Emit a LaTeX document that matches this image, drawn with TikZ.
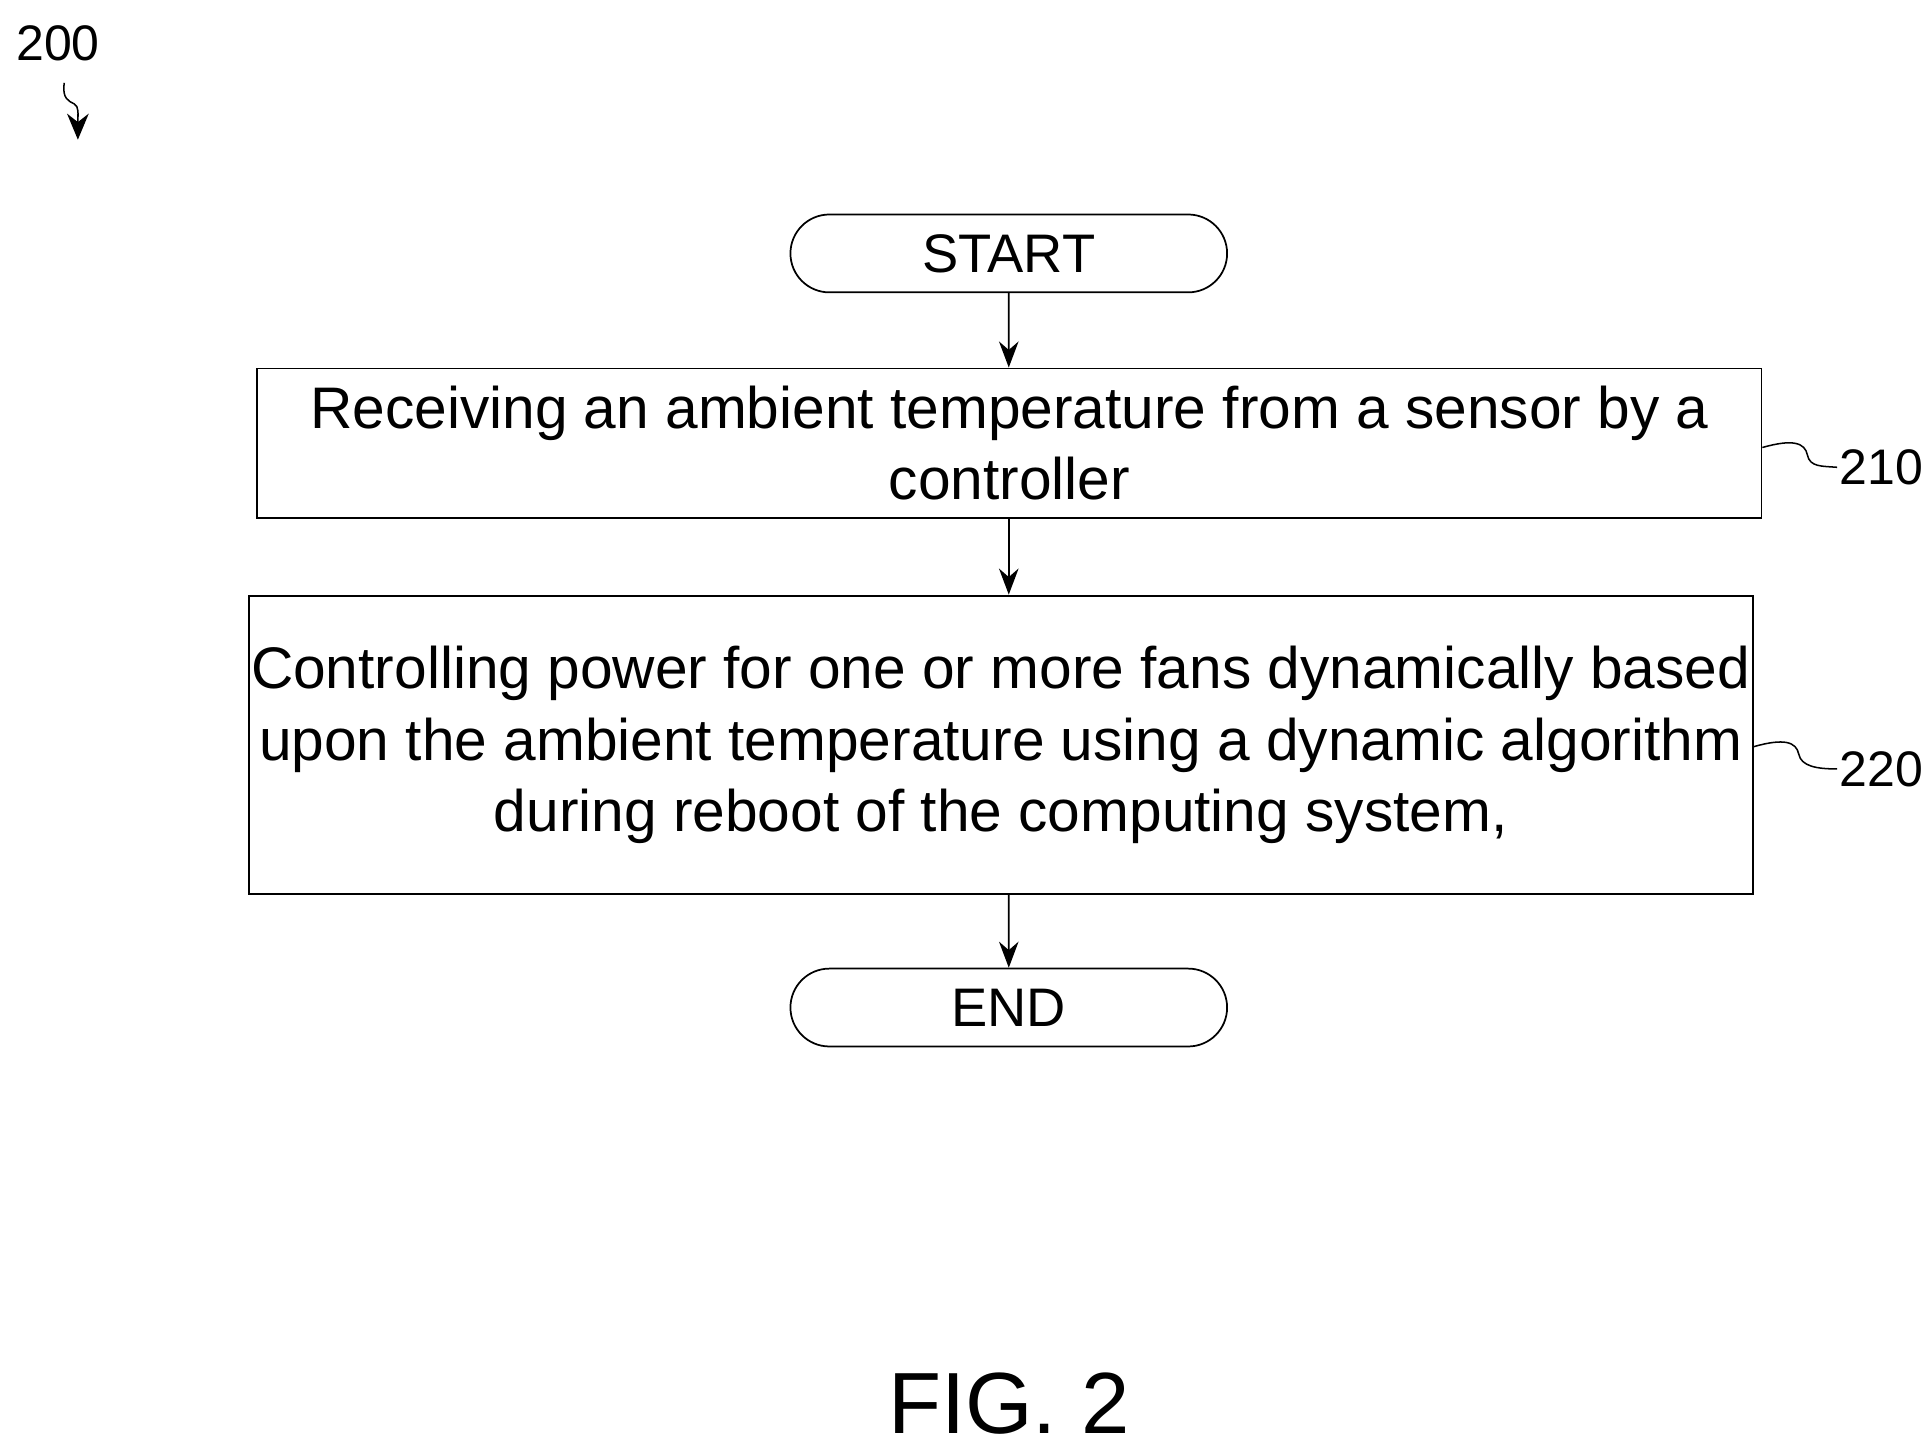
\documentclass[tikz,border=0pt]{standalone}
\usepackage{fontspec}
\setmainfont{Liberation Sans}
\usetikzlibrary{shapes.misc,arrows.meta}
\begin{document}
\begin{tikzpicture}[x=0.02cm,y=-0.02cm,
  term/.style={draw,rounded rectangle,minimum width=7.3cm,minimum height=1.26cm,font=\fontsize{25}{30}\selectfont,line width=0.8pt},
  box/.style={draw,line width=0.8pt,align=center,font=\fontsize{27}{33}\selectfont,inner sep=0pt},
  arr/.style={-{Stealth[length=12pt,width=9pt]},line width=0.8pt},
  lbl/.style={font=\fontsize{23}{28}\selectfont},
  sq/.style={line width=0.7pt}]
\useasboundingbox (0,0) rectangle (1562,1176);
\node[term] (s) at (816,205) {START};
\node[box,minimum width=24.34cm,minimum height=2.42cm] (b1) at (816.5,358.5) {Receiving an ambient temperature from a sensor by a\\controller};
\node[box,minimum width=24.34cm,minimum height=4.82cm] (b2) at (809.5,602.5) {Controlling power for one or more fans dynamically based\\upon the ambient temperature using a dynamic algorithm\\during reboot of the computing system,};
\node[term] (e) at (816,815) {END};
\draw[arr] (s) -- (s|-b1.north);
\draw[arr] (816,420) -- (816,481);
\draw[arr] (816,724) -- (e);
\node[lbl,anchor=west,inner sep=1pt] (l1) at (1486,378) {210};
\node[lbl,anchor=west,inner sep=1pt] (l2) at (1486,622) {220};
\draw[sq] (b1.east|-0,362) .. controls (1450,355) and (1460,358) .. (1462,368) .. controls (1464,378) and (1474,377) .. (l1.west);
\draw[sq] (b2.east|-0,604) .. controls (1443,597) and (1453,600) .. (1455,610) .. controls (1457,620) and (1470,622) .. (l2.west);
\node[lbl] (n200) at (47,35) {200};
\coordinate (t200) at (63,113);
\draw[sq,-{Stealth[length=12pt,width=10pt]}] (52,67) .. controls (50,80) and (56,82) .. (60,84) .. controls (64,86) and (63,92) .. (t200);
\node[font=\fontsize{40}{44}\selectfont] (fig) at (816,1135) {FIG. 2};
\end{tikzpicture}
\end{document}
